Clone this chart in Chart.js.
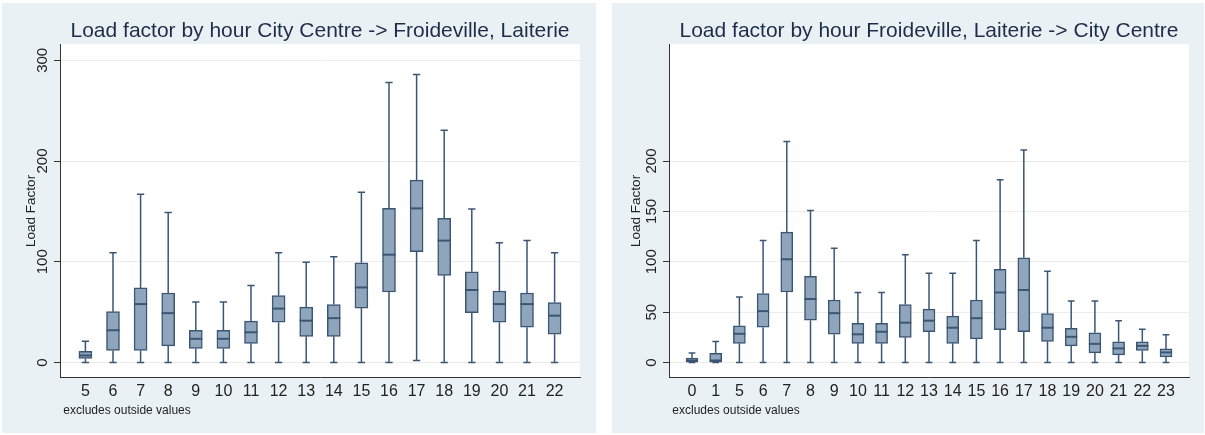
<!DOCTYPE html>
<html>
<head>
<meta charset="utf-8">
<script src="https://cdn.jsdelivr.net/npm/chart.js@4.4.1/dist/chart.umd.min.js"></script>
<style>
  body { margin: 0; background: #ffffff; width: 1205px; height: 435px; position: relative; overflow: hidden; }
  .panel { position: absolute; top: 3px; height: 430px; background: #eaf1f4; }
  #panelA { left: 2px; width: 594px; }
  #panelB { left: 612px; width: 592px; }
</style>
</head>
<body>
<div class="panel" id="panelA"><canvas id="chartA" width="594" height="430"></canvas></div>
<div class="panel" id="panelB"><canvas id="chartB" width="592" height="430"></canvas></div>
<script>
// Datos: City Centre -> Froideville, Laiterie
const hoursA = ["5", "6", "7", "8", "9", "10", "11", "12", "13", "14", "15", "16", "17", "18", "19", "20", "21", "22"];
const minA = [0, 0, 0, 0, 0, 0, 0, 0, 0, 0, 0, 0, 2, 0, 0, 0, 0, 0];
const q1A = [4, 12, 12, 16.5, 14, 14, 19, 40, 26, 26, 54, 70, 110, 86.5, 49.5, 40, 35, 28];
const medA = [7, 32, 58, 49, 23.5, 23.5, 30, 53.5, 41.5, 44, 74.5, 107, 153, 121, 72, 58, 58, 46.5];
const q3A = [11, 50.5, 74, 69, 32, 32, 41, 66.5, 55, 57.5, 99, 153, 181, 143, 90, 71, 69, 59.5];
const maxA = [21, 109, 167, 149, 60, 60, 76.5, 109, 99.5, 105, 169, 278, 286, 230.5, 152.5, 119, 121, 109];
const ticksA = [0, 100, 200, 300];

// Datos: Froideville, Laiterie -> City Centre
const hoursB = ["0", "1", "5", "6", "7", "8", "9", "10", "11", "12", "13", "14", "15", "16", "17", "18", "19", "20", "21", "22", "23"];
const minB = [0, 0, 0, 0, 0, 0, 0, 0, 0, 0, 0, 0, 0, 0, 0, 0, 0, 0, 0, 0, 0];
const q1B = [0.3, 0.3, 19, 35, 70, 42, 28, 19, 19, 25, 30.5, 19, 23.5, 32.5, 30.5, 21, 16.5, 9.5, 7.5, 12, 5.5];
const medB = [2, 2, 28.5, 51, 102.5, 63, 49, 28, 30.5, 39.5, 41.5, 34.5, 44, 69.5, 72, 34.5, 25.5, 18.5, 14, 16.5, 10];
const q3B = [4.4, 9, 36.5, 68.5, 129.5, 85.5, 62, 39, 39, 57.5, 53, 46, 62, 92.5, 104, 48.5, 34, 29.5, 20.5, 20.5, 13.5];
const maxB = [9.3, 20.8, 65, 121, 219.5, 151, 113.5, 69.5, 69.5, 107, 88.5, 88.5, 121, 181.5, 211, 90.5, 61, 61, 41.5, 33, 27.5];
const ticksB = [0, 50, 100, 150, 200];

const colorBox = "#8fa5bb";
const colorLine = "#3b5675";
const fontFam = "'Liberation Sans', Arial, sans-serif";

// Bigotes, topes y medianas
const boxPlugin = {
  id: "boxExtras",
  afterDatasetsDraw(chart, args, opts) {
    const { ctx } = chart;
    const x = chart.scales.x;
    const y = chart.scales.y;
    ctx.save();
    ctx.strokeStyle = colorLine;
    for (let i = 0; i < opts.med.length; i++) {
      const px = x.getPixelForValue(i);
      const half = opts.width / 2;
      const cap = opts.width * 0.28;
      ctx.lineWidth = 1.5;
      ctx.beginPath();
      ctx.moveTo(px, y.getPixelForValue(opts.q3[i]));
      ctx.lineTo(px, y.getPixelForValue(opts.max[i]));
      ctx.moveTo(px, y.getPixelForValue(opts.q1[i]));
      ctx.lineTo(px, y.getPixelForValue(opts.min[i]));
      ctx.moveTo(px - cap, y.getPixelForValue(opts.max[i]));
      ctx.lineTo(px + cap, y.getPixelForValue(opts.max[i]));
      ctx.moveTo(px - cap, y.getPixelForValue(opts.min[i]));
      ctx.lineTo(px + cap, y.getPixelForValue(opts.min[i]));
      ctx.stroke();
      ctx.lineWidth = 2;
      ctx.beginPath();
      ctx.moveTo(px - half, y.getPixelForValue(opts.med[i]));
      ctx.lineTo(px + half, y.getPixelForValue(opts.med[i]));
      ctx.stroke();
    }
    ctx.restore();
  },
};

// Fondo blanco del área y etiquetas verticales del eje y
const areaPlugin = {
  id: "areaBg",
  beforeDraw(chart) {
    const { ctx, chartArea } = chart;
    ctx.save();
    ctx.fillStyle = "#ffffff";
    ctx.fillRect(chartArea.left, chartArea.top, chartArea.right - chartArea.left, chartArea.bottom - chartArea.top);
    ctx.restore();
  },
  afterDraw(chart) {
    const { ctx } = chart;
    const y = chart.scales.y;
    ctx.save();
    ctx.fillStyle = "#222222";
    ctx.font = "15px " + fontFam;
    ctx.textAlign = "center";
    ctx.textBaseline = "middle";
    for (const t of y.ticks) {
      ctx.save();
      ctx.translate(y.right - 17, y.getPixelForValue(t.value));
      ctx.rotate(-Math.PI / 2);
      ctx.fillText(String(t.value), 0, 0);
      ctx.restore();
    }
    ctx.restore();
  },
};

function makeChart(id, cfg) {
  const data = cfg.hours.map((h, i) => ({ x: i, y: [cfg.q1[i], cfg.q3[i]] }));
  return new Chart(document.getElementById(id), {
    type: "bar",
    data: {
      datasets: [
        {
          data: data,
          backgroundColor: colorBox,
          borderColor: colorLine,
          borderWidth: 1.5,
          borderSkipped: false,
          barThickness: cfg.boxWidth,
        },
      ],
    },
    options: {
      responsive: false,
      animation: false,
      layout: { padding: { left: 0, right: cfg.padRight, top: 0, bottom: 0 } },
      plugins: {
        legend: { display: false },
        tooltip: { enabled: false },
        title: {
          display: true,
          text: cfg.title,
          fullSize: false,
          color: "#1f2d4a",
          font: { family: fontFam, size: 21, weight: "normal", lineHeight: 1.2 },
          padding: { top: 16, bottom: 0 },
        },
        subtitle: {
          display: true,
          text: " excludes outside values",
          position: "bottom",
          align: "start",
          fullSize: false,
          color: "#222222",
          font: { family: fontFam, size: 12, lineHeight: 1.2 },
          padding: { top: 0, bottom: 15 },
        },
        boxExtras: { min: cfg.min, q1: cfg.q1, med: cfg.med, q3: cfg.q3, max: cfg.max, width: cfg.boxWidth },
      },
      scales: {
        x: {
          type: "linear",
          offset: false,
          min: -cfg.margin,
          max: cfg.hours.length - 1 + cfg.margin,
          afterBuildTicks: (scale) => {
            scale.ticks = cfg.hours.map((h, i) => ({ value: i }));
          },
          afterFit: (scale) => {
            scale.height = 26;
          },
          grid: { display: false, drawTicks: false },
          border: { display: true, color: "#333333", width: 1 },
          ticks: {
            padding: 4,
            color: "#222222",
            maxRotation: 0,
            autoSkip: false,
            font: { family: fontFam, size: 16 },
            callback: (value) => cfg.hours[value],
          },
        },
        y: {
          min: -15,
          max: 316,
          afterBuildTicks: (scale) => {
            scale.ticks = cfg.ticks.map((v) => ({ value: v }));
          },
          afterFit: (scale) => {
            scale.width = cfg.axisLeft;
          },
          grid: { color: "#ececec", tickColor: "#333333", tickLength: 6, lineWidth: 1 },
          border: { display: true, color: "#333333", width: 1 },
          ticks: { display: false },
          title: {
            display: true,
            text: "Load Factor",
            color: "#222222",
            font: { family: fontFam, size: 13.5, lineHeight: 1.2 },
            padding: { top: cfg.titlePad, bottom: 0 },
          },
        },
      },
    },
    plugins: [areaPlugin, boxPlugin],
  });
}

makeChart("chartA", {
  title: "Load factor by hour City Centre -> Froideville, Laiterie",
  hours: hoursA, min: minA, q1: q1A, med: medA, q3: q3A, max: maxA, ticks: ticksA,
  boxWidth: 13, margin: 0.92, padRight: 16, axisLeft: 58, titlePad: 21,
});

makeChart("chartB", {
  title: "Load factor by hour Froideville, Laiterie -> City Centre",
  hours: hoursB, min: minB, q1: q1B, med: medB, q3: q3B, max: maxB, ticks: ticksB,
  boxWidth: 12, margin: 0.97, padRight: 15, axisLeft: 57, titlePad: 16,
});
</script>
</body>
</html>
